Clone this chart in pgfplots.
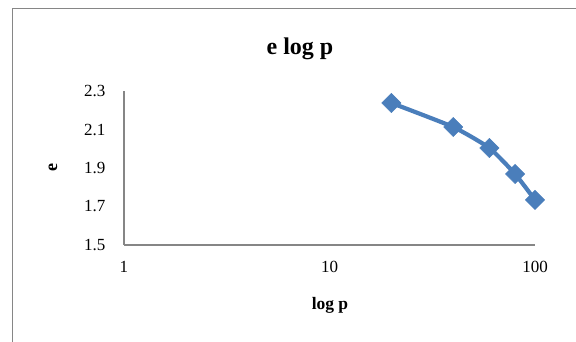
\documentclass[border=0pt]{standalone}
\usepackage{pgfplots}
\pgfplotsset{compat=1.18}
\usepackage{fontspec}
\setmainfont{Liberation Serif}
\definecolor{exblue}{HTML}{4A7EBB}
\definecolor{axgray}{HTML}{868686}
\begin{document}
\begin{tikzpicture}[x=1pt,y=1pt]
\useasboundingbox (-124,-97) rectangle (452,245);
\draw[axgray, line width=1pt] (-111,-110) rectangle (470,236);
\begin{axis}[
  at={(0,0)}, anchor=origin,
  scale only axis, width=411pt, height=154pt,
  xmode=log, xmin=1, xmax=100, ymin=1.5, ymax=2.3,
  ytick={1.5,1.7,1.9,2.1,2.3},
  yticklabel={\pgfmathprintnumber[fixed, fixed zerofill, precision=1]{\tick}},
  xtick={1,10,100}, xticklabels={1,10,100},
  minor xtick={},
  axis x line*=bottom, axis y line*=left,
  axis line style={axgray, line width=1.1pt, -},
  tick style={draw=none},
  major tick length=0pt,
  font=\fontsize{17}{19}\selectfont,
  /pgf/number format/assume math mode=true,
  xticklabel style={yshift=-13pt},
  yticklabel style={xshift=-15pt},
  clip=false,
]
\addplot[exblue, line width=4.2pt, smooth, tension=0.3, mark=square*, mark size=6.8pt, mark options={rotate=45, line width=0.5pt, fill=exblue}]
coordinates {(20,2.238) (40,2.113) (60,2.004) (80,1.869) (100,1.734)};
\end{axis}
\node[font=\fontsize{24}{26}\selectfont\bfseries] at (176,196) {e log p};
\node[font=\fontsize{17.5}{19}\selectfont\bfseries] at (206,-60) {log p};
\node[font=\fontsize{18}{19}\selectfont\bfseries, rotate=90] at (-71,77) {e};
\end{tikzpicture}
\end{document}
